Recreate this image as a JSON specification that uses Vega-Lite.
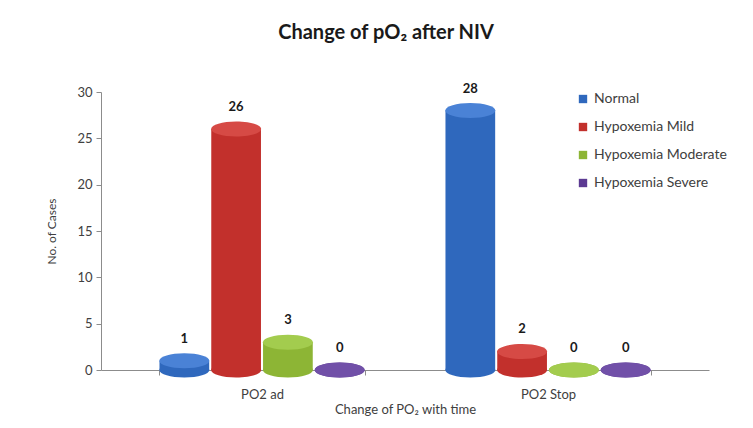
{
  "$schema": "https://vega.github.io/schema/vega-lite/v6.json",
  "autosize": "none",
  "width": 608,
  "height": 278,
  "padding": {"left": 101, "top": 92, "right": 44, "bottom": 58},
  "background": "white",
  "config": {
    "font": "Lato",
    "view": {"stroke": null},
    "axis": {"labelColor": "#404040", "titleColor": "#404040", "domainColor": "#8c8c8c", "tickColor": "#8c8c8c", "grid": false, "titleFontWeight": "normal"}
  },
  "title": {"text": "Change of pO₂ after NIV", "fontSize": 20, "fontWeight": "bold", "color": "#1a1a1a", "offset": 40, "anchor": "middle", "dx": -19},
  "data": {"values": [
    {"time": "PO2 ad", "group": "Normal", "cases": 1},
    {"time": "PO2 ad", "group": "Hypoxemia Mild", "cases": 26},
    {"time": "PO2 ad", "group": "Hypoxemia Moderate", "cases": 3},
    {"time": "PO2 ad", "group": "Hypoxemia Severe", "cases": 0},
    {"time": "PO2 Stop", "group": "Normal", "cases": 28},
    {"time": "PO2 Stop", "group": "Hypoxemia Mild", "cases": 2},
    {"time": "PO2 Stop", "group": "Hypoxemia Moderate", "cases": 0},
    {"time": "PO2 Stop", "group": "Hypoxemia Severe", "cases": 0}
  ]},
  "encoding": {
    "x": {"field": "time", "type": "nominal", "sort": ["PO2 ad", "PO2 Stop"],
      "scale": {"paddingInner": 0.283, "paddingOuter": 0.2045},
      "axis": {"title": "Change of PO₂ with time", "labelAngle": 0, "labelFontSize": 13, "labelPadding": 13, "titleFontSize": 13, "titlePadding": 2, "tickBand": "extent", "tickSize": 5}},
    "xOffset": {"field": "group", "type": "nominal", "sort": ["Normal", "Hypoxemia Mild", "Hypoxemia Moderate", "Hypoxemia Severe"], "scale": {"paddingInner": 0.04}},
    "y": {"field": "cases", "type": "quantitative",
      "scale": {"domain": [0, 30]},
      "axis": {"title": "No. of Cases", "values": [0, 5, 10, 15, 20, 25, 30], "labelFontSize": 13, "titleFontSize": 12, "titlePadding": 18, "tickSize": 5, "labelPadding": 4}}
  },
  "layer": [
    {
      "mark": {"type": "point", "filled": true, "opacity": 1, "shape": "M -1 0 A 1 0.3 0 1 0 1 0 A 1 0.3 0 1 0 -1 0 Z", "size": 2500},
      "encoding": {
        "y": {"datum": 0, "type": "quantitative"},
        "color": {"field": "group", "type": "nominal", "sort": ["Normal", "Hypoxemia Mild", "Hypoxemia Moderate", "Hypoxemia Severe"],
          "scale": {"domain": ["Normal", "Hypoxemia Mild", "Hypoxemia Moderate", "Hypoxemia Severe"], "range": ["#2F68BD", "#C2302C", "#8DB535", "#5C3A92"]},
          "legend": {"title": null, "orient": "none", "legendX": 475, "legendY": 0, "symbolType": "square", "symbolSize": 70, "labelFontSize": 14, "labelColor": "#404040", "rowPadding": 14, "labelOffset": 4}}
      }
    },
    {
      "mark": {"type": "bar"},
      "encoding": {
        "color": {"field": "group", "type": "nominal", "sort": ["Normal", "Hypoxemia Mild", "Hypoxemia Moderate", "Hypoxemia Severe"]}
      }
    },
    {
      "mark": {"type": "point", "filled": true, "opacity": 1, "shape": "M -1 0 A 1 0.3 0 1 0 1 0 A 1 0.3 0 1 0 -1 0 Z", "size": 2500},
      "encoding": {
        "fill": {"field": "group", "type": "nominal", "legend": null,
          "scale": {"domain": ["Normal", "Hypoxemia Mild", "Hypoxemia Moderate", "Hypoxemia Severe"], "range": ["#4A82D6", "#D64A45", "#A3CC4E", "#7150A8"]}}
      }
    },
    {
      "mark": {"type": "text", "dy": -22, "fontSize": 13, "fontWeight": "bold", "color": "#1a1a1a", "baseline": "middle"},
      "encoding": {"text": {"field": "cases", "type": "quantitative"}}
    }
  ]
}
